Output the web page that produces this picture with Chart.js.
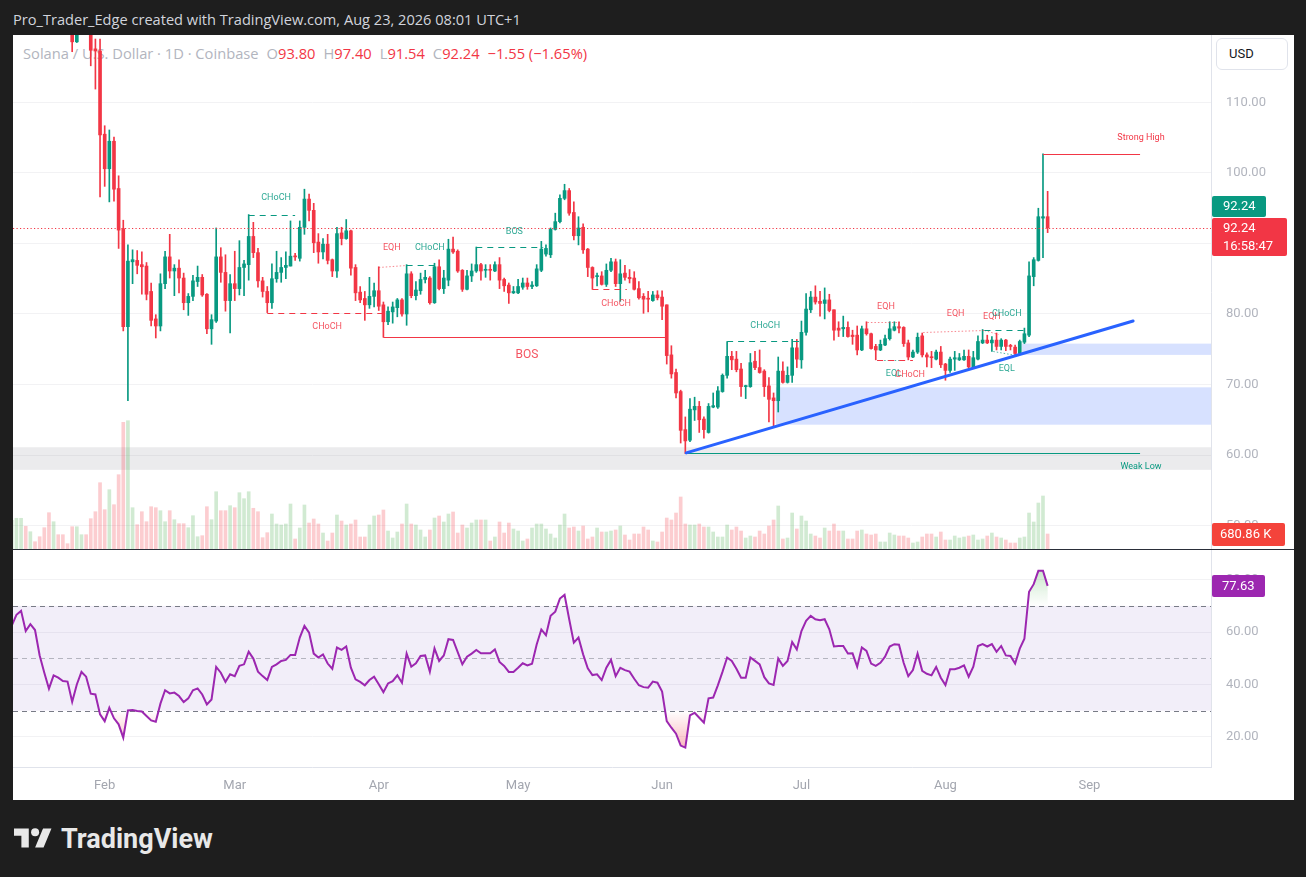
<!DOCTYPE html>
<html><head><meta charset="utf-8">
<title>SOLUSD 1D</title>
<script src="https://cdn.jsdelivr.net/npm/chart.js@4.4.1/dist/chart.umd.min.js"></script>
<style>
html,body{margin:0;padding:0;}
body{width:1306px;height:877px;background:#1e1e1e;position:relative;overflow:hidden;font-family:Roboto,"Noto Sans",sans-serif;}
#title{position:absolute;left:13px;top:9px;color:#d1d4dc;font-family:"Open Sans",sans-serif;font-size:14.6px;line-height:20px;white-space:nowrap;}
#frame{position:absolute;left:13px;top:35px;width:1281px;height:765px;background:#fff;}
#legend{position:absolute;left:23px;top:44px;font-family:"Open Sans",sans-serif;font-size:14.7px;line-height:18px;color:#b2b5be;white-space:nowrap;}
#legend .v{color:#f23645;}
#legend .g{margin-left:8px;}
canvas{position:absolute;}
#c1{left:13px;top:35px;width:1281px;height:514px;}
#c2{left:13px;top:550px;width:1281px;height:250px;}
#sep{position:absolute;left:13px;top:549px;width:1281px;height:1px;background:#2a2e39;}
#usd{position:absolute;left:1216px;top:38px;width:72px;height:32px;border:1px solid #e0e3eb;border-radius:6px;box-sizing:border-box;font-size:13px;color:#131722;line-height:30px;padding-left:12px;background:#fff;}
#brand{position:absolute;left:14px;top:824px;height:30px;display:flex;align-items:center;}
#brand span{color:#e8e8e8;font-weight:700;font-size:27px;margin-left:9px;}
</style></head>
<body>
<div id="title">Pro_Trader_Edge created with TradingView.com, Aug 23, 2026 08:01 UTC+1</div>
<div id="frame"></div>
<div id="legend">Solana / U.S. Dollar · 1D · Coinbase<span class="g">O</span><span class="v">93.80</span><span class="g">H</span><span class="v">97.40</span><span class="g">L</span><span class="v">91.54</span><span class="g">C</span><span class="v">92.24</span><span class="g v">−1.55 (−1.65%)</span></div>
<canvas id="c1" width="1281" height="514"></canvas>
<div id="sep"></div>
<canvas id="c2" width="1281" height="250"></canvas>
<div id="usd">USD</div>
<div id="brand"><svg width="38" height="30" viewBox="0 0 36 28"><path d="M14 22H7V11H0V4h14v18zM28 22h-8l7.5-18h8L28 22z" fill="#e8e8e8"/><circle cx="20" cy="7.5" r="3.8" fill="#e8e8e8"/></svg><span>TradingView</span></div>
<script>
// ---------- DATA (daily candles starting at firstDate) ----------
const firstDate = '2026-01-12';
const open = [
138,140,142,144,137,138.5,136.5,132,128,123,
126,125,124.2,121,118.6,121.5,123,121.2,117.6,117.3,
105.5,100.6,104.5,97.8,92.1,78.2,87.4,87.6,87.0,86.8,
83.2,79.3,78.3,84.3,88.1,86.1,86.5,85.1,81.6,82.5,
84.6,85.2,82.8,77.9,79.0,88.1,85.9,81.9,84.3,83.6,
86.6,87.0,91.0,88.7,84.7,83.2,81.6,85.0,85.9,86.6,
86.8,88.2,87.9,92.3,96.3,94.7,90.2,88.8,89.9,87.7,
86.1,91.5,90.7,91.8,86.6,83.1,82.2,81.3,82.5,83.3,
81.3,78.9,80.3,80.9,82.0,80.0,85.7,82.6,83.3,84.9,
85.1,81.6,86.7,83.6,84.8,89.2,88.9,86.2,83.5,85.4,
86.1,87.0,86.2,86.3,86.1,87.0,84.9,84.1,83.0,83.0,
83.8,84.4,83.9,84.0,86.2,88.5,88.4,92.0,93.1,96.4,
97.5,94.4,91.1,92.3,89.2,86.6,85.3,85.4,84.2,86.2,
87.4,84.3,85.8,85.2,85.1,83.6,82.5,82.2,81.9,82.7,
82.4,81.3,74.2,71.7,69.0,63.6,62.1,66.4,66.9,65.1,
63.2,66.8,66.8,69.0,71.3,74.0,73.6,72.2,69.7,69.7,
73.3,72.4,71.9,69.8,68.1,67.7,71.9,70.3,71.3,75.2,
73.5,77.4,80.6,82.4,81.8,81.5,82.0,80.6,78.0,77.9,
78.1,77.0,77.0,74.9,77.9,77.2,75.4,74.9,75.6,76.5,
77.7,78.2,78.1,75.9,73.9,74.6,76.9,74.2,73.9,73.6,
74.6,72.9,72.0,73.6,73.5,73.5,74.0,72.5,73.6,75.9,
76.3,75.9,76.3,75.4,76.3,75.5,75.3,74.4,76.0,77.0,
85.3,87.6,93.6,93.80];
const high = [
141,143,146,145,140,139,137,133,129,127,
126.5,125.5,124.5,121.5,122,124,123.5,122,119,119,
106.7,106.1,105.1,99.6,93.3,89.8,89.1,89.0,88.8,87.3,
84.4,79.9,85.7,88.9,91.3,87.0,87.7,85.8,82.9,85.5,
86.8,85.6,82.9,79.9,92.2,89.4,88.4,85.6,88.9,90.4,
87.6,94.1,93.0,89.3,85.2,83.9,87.1,88.9,88.0,88.8,
93.2,88.6,93.2,97.7,97.0,95.7,91.4,90.7,91.3,87.8,
92.3,92.3,93.4,91.9,87.0,83.9,83.2,85.2,84.4,86.7,
81.7,81.0,81.7,82.2,82.2,87.0,86.0,84.6,85.8,86.2,
85.3,87.2,87.7,86.2,90.6,90.9,89.1,86.3,86.2,87.1,
89.5,87.2,87.0,87.0,87.4,88.0,85.1,84.4,83.9,84.9,
85.1,85.1,84.6,87.0,90.3,89.8,92.2,94.3,96.9,98.4,
97.8,95.9,93.8,92.8,89.3,86.7,85.8,86.0,87.1,87.9,
87.8,87.7,86.9,86.3,86.0,84.6,82.9,83.2,83.2,83.3,
83.3,81.3,75.5,72.2,69.2,65.4,68.0,68.2,67.6,65.4,
67.3,68.8,69.7,71.5,76.1,74.7,74.7,73.0,69.9,74.4,
74.7,74.9,72.1,71.0,68.8,73.9,73.2,72.5,76.4,76.4,
79.0,82.9,83.2,84.0,83.2,83.7,82.8,80.6,78.9,79.7,
78.9,77.7,78.3,78.3,78.9,77.3,75.7,76.3,77.0,78.9,
78.9,78.9,78.2,76.3,74.9,77.3,77.3,74.5,74.7,74.9,
75.4,73.0,73.9,74.7,74.4,74.9,74.9,74.7,76.9,77.8,
77.0,76.8,77.3,76.5,76.4,75.7,75.6,76.3,78.0,87.4,
88.0,95.0,102.7,97.40];
const low = [
137,138,140,136,136,136,131,127,121,122,
124,123.5,120.5,117.2,118.5,120.5,120.8,115.2,111.9,96.6,
98.1,95.9,96.0,89.3,77.6,67.7,84.3,85.7,82.8,82.0,
78.3,76.6,77.6,83.6,85.1,82.6,83.0,80.6,79.8,81.9,
83.9,82.5,77.2,75.7,78.8,84.5,80.4,77.3,81.9,82.7,
82.6,84.8,88.0,83.8,82.4,80.2,80.8,84.5,84.5,85.0,
86.8,87.6,87.5,91.3,93.2,88.7,87.2,87.8,87.1,85.3,
85.2,89.8,90.6,85.5,81.9,81.6,79.1,80.8,81.0,80.5,
76.7,78.5,78.7,79.6,79.7,78.4,82.3,82.0,82.8,84.4,
81.4,81.5,83.4,82.9,84.0,88.6,85.9,83.2,83.4,84.6,
85.9,84.8,85.2,84.8,86.0,83.6,83.2,81.5,82.9,82.9,
83.5,83.5,83.6,83.9,86.0,88.2,88.0,91.9,92.9,96.2,
94.0,90.5,89.8,88.6,85.3,83.5,84.0,84.1,83.9,86.0,
83.9,81.8,84.8,84.4,83.4,82.1,80.1,80.3,81.8,82.0,
79.2,72.9,70.9,68.1,61.7,60.2,61.9,64.9,63.2,62.4,
63.1,66.7,66.6,68.9,70.9,72.1,71.8,68.3,68.0,69.6,
72.1,71.6,68.3,64.7,64.1,66.1,70.2,70.2,70.3,72.4,
72.3,77.0,80.2,81.4,79.7,79.3,80.3,76.3,76.8,76.8,
76.7,75.7,74.2,74.8,77.0,75.0,73.5,74.8,75.5,76.3,
77.6,77.3,75.4,73.5,73.8,74.4,73.9,72.5,72.4,73.5,
72.4,70.6,71.7,72.0,73.4,73.4,72.3,72.4,73.5,75.8,
75.8,74.7,74.9,74.9,74.8,74.9,74.2,74.3,75.8,76.8,
84.0,87.5,88.0,91.54];
const close = [
140,142,144,137,138.5,136.5,132,128,123,126,
125,124.2,121,118.6,121.5,123,121.2,117.4,117.3,105.4,
100.6,104.5,97.7,91.9,78.2,87.5,87.7,86.9,86.7,82.8,
79.1,78.3,84.3,88.1,86.1,86.5,85.1,81.6,82.5,84.7,
85.2,82.7,77.9,79.2,88.1,85.9,81.9,84.3,83.6,86.6,
87.1,91.0,88.7,84.7,83.2,81.6,85.0,85.9,86.6,86.9,
88.2,88.1,92.3,96.3,94.7,90.1,88.8,89.9,87.6,86.1,
91.4,90.7,91.8,86.5,83.0,82.0,81.3,82.5,83.3,81.1,
78.9,80.4,81.0,82.0,80.0,85.7,82.6,83.4,84.9,85.2,
81.6,86.7,83.6,85.1,89.2,88.8,86.1,83.5,85.4,86.1,
87.0,86.1,86.3,86.2,87.0,84.8,84.0,83.0,83.2,83.9,
84.4,83.9,84.1,86.4,89.2,89.3,92.0,93.1,96.4,97.5,
94.3,91.1,92.2,89.1,86.6,85.1,85.4,84.2,86.2,87.4,
84.3,85.7,85.2,85.0,83.5,82.3,82.1,82.1,82.7,82.3,
81.1,74.1,71.5,68.8,63.5,62.0,66.5,66.9,65.0,63.6,
66.9,67.0,69.1,71.3,74.0,73.5,72.1,69.7,69.8,73.1,
72.4,71.7,69.7,67.9,67.7,71.9,70.3,71.3,75.2,73.6,
77.4,80.7,82.4,81.7,81.5,82.0,80.5,77.7,77.7,78.1,
76.8,76.8,74.9,77.9,77.2,75.1,74.9,75.7,76.5,77.9,
78.2,78.0,75.8,73.9,74.6,76.7,74.2,73.9,73.8,74.6,
72.8,72.0,73.6,73.8,73.8,74.0,72.5,73.8,76.1,76.3,
75.9,76.3,75.4,76.3,75.4,75.4,74.4,76.1,77.2,85.4,
87.7,93.8,93.8,92.24];
// volume in thousands
const volume = [
1300,1394,1394,1031,785,331,558,967,1648,1239,
649,649,241,1012,1012,649,649,1376,1693,3010,
1784,2692,2011,3373,5752,5825,1875,1103,1693,1239,
1920,1875,1739,1239,1739,1330,1149,1149,967,1512,
558,604,1920,1330,2601,1739,1739,1966,1875,2556,
2284,2601,1848,1693,513,740,1589,1135,1090,1135,
2043,454,953,1998,1180,1362,1135,726,363,726,
1544,1271,1090,1135,1317,545,545,1090,1498,1544,
1771,817,499,772,1135,2043,1135,1090,863,545,
863,1407,1498,1226,1589,1680,726,1090,953,1180,
1317,1317,1317,363,545,1226,726,1180,908,817,
363,454,953,1135,1135,908,681,499,1090,1589,
953,999,817,1044,454,545,953,772,772,817,
863,1044,636,409,681,681,999,863,363,318,
772,1407,1317,1634,2361,1135,1090,1090,1135,999,
999,772,545,545,1090,863,999,817,499,590,
545,817,681,1044,1317,1952,454,499,1634,908,
1498,1271,681,590,499,953,817,1135,817,817,
454,454,817,863,681,636,681,318,318,726,
636,590,590,499,272,318,545,681,681,545,
772,409,409,590,499,545,590,636,409,454,
590,726,545,499,409,272,272,499,545,1634,
1226,2088,2406,680.86];
const rsi = [
62.5,66.6,68.1,60.4,63.0,60.8,51.1,44.5,38.4,43.5,
42.6,41.3,41.1,33.4,40.0,44.8,43.0,36.5,36.2,28.6,
26.0,31.1,27.1,24.8,19.7,30.1,30.3,29.9,29.7,28.0,
26.3,25.8,32.7,37.8,36.6,36.9,35.6,33.3,34.7,37.8,
38.5,36.2,32.4,34.3,46.7,44.5,41.0,43.9,43.2,47.1,
47.7,52.5,49.9,44.9,43.2,41.7,46.7,47.7,49.0,49.4,
51.3,51.3,57.9,62.4,59.8,51.8,50.3,51.5,48.0,46.0,
54.1,53.2,54.5,46.4,42.0,41.0,39.7,41.7,43.0,40.1,
37.1,40.4,41.3,43.5,40.7,51.8,46.8,48.1,50.9,51.1,
44.9,53.8,49.0,51.1,57.3,57.0,52.4,47.7,50.6,51.8,
53.2,51.9,51.9,51.9,53.4,48.6,47.1,44.8,44.8,46.4,
48.1,47.3,47.9,55.3,61.0,58.8,66.2,67.8,72.8,74.2,
64.9,56.0,57.9,51.5,46.2,43.6,43.9,41.7,46.4,49.4,
43.2,46.4,45.5,44.9,42.2,39.7,39.0,38.8,41.1,40.7,
37.3,26.0,23.5,21.2,16.7,15.9,28.2,29.2,27.3,25.4,
34.7,35.0,39.7,44.8,50.3,49.0,46.0,42.6,42.6,50.3,
49.0,47.7,42.8,40.4,39.8,49.9,47.1,49.0,56.2,53.4,
60.4,64.3,66.2,64.9,64.5,64.9,61.1,54.5,54.7,54.7,
51.8,51.9,46.8,54.1,52.8,48.0,47.1,48.3,50.6,54.5,
55.4,55.2,48.3,43.2,45.5,51.8,45.2,44.1,43.5,46.7,
42.6,39.8,45.8,45.8,46.4,47.3,43.0,46.8,54.7,55.4,
54.5,55.4,52.5,54.7,51.1,50.9,48.0,53.7,57.5,75.4,
78.3,83.4,83.4,77.63];
const monthLabels = ['Feb','Mar','Apr','May','Jun','Jul','Aug','Sep'];
const priceTicks = [50,60,70,80,90,100,110];
const rsiTicks = [20,40,60,80];
const countdown = '16:58:47';

// structure annotations (day offsets from Feb 1, price levels)
const structures = [
 {label:'CHoCH', from:31, to:41, p1:94.1, p2:94.1, col:'g', style:'dash', lx:36.9, lp:96.45},
 {label:'CHoCH', from:35, to:60, p1:80.2, p2:80.2, col:'r', style:'dash', lx:47.9, lp:78.16},
 {label:'EQH', from:59, to:65, p1:86.6, p2:87.0, col:'r', style:'dot', lx:61.8, lp:89.4},
 {label:'CHoCH', from:65, to:72, p1:87.0, p2:87.0, col:'g', style:'dash', lx:70.0, lp:89.4},
 {label:'BOS', from:80, to:94.4, p1:89.5, p2:89.5, col:'g', style:'dash', lx:88.2, lp:91.6},
 {label:'BOS', from:60, to:121, p1:76.7, p2:76.7, col:'r', style:'solid', lx:90.9, lp:74.2, big:true},
 {label:'CHoCH', from:105, to:112.4, p1:83.5, p2:83.5, col:'r', style:'dash', lx:110.1, lp:81.4},
 {label:'CHoCH', from:134, to:150, p1:76.1, p2:76.1, col:'g', style:'dash', lx:142.2, lp:78.4},
 {label:'EQH', from:164.2, to:171.2, p1:78.9, p2:78.8, col:'r', style:'dot', lx:168.2, lp:81.0},
 {label:'EQL', from:166.3, to:172, p1:73.5, p2:73.5, col:'g', style:'dot', lx:169.9, lp:71.5},
 {label:'CHoCH', from:166.3, to:174, p1:73.5, p2:73.5, col:'r', style:'dash', lx:173.4, lp:71.35},
 {label:'EQH', from:176.2, to:189.4, p1:77.5, p2:77.8, col:'r', style:'dot', lx:183.2, lp:80.0},
 {label:'EQH', from:189.4, to:192.4, p1:77.8, p2:77.2, col:'r', style:'dot', lx:191.0, lp:79.6},
 {label:'CHoCH', from:189.4, to:199.2, p1:77.8, p2:77.8, col:'g', style:'dash', lx:194.2, lp:80.0},
 {label:'EQL', from:191.3, to:196.3, p1:74.8, p2:74.2, col:'g', style:'dot', lx:194.2, lp:72.2}
];
const zones = [
 {from:null, top:61.1, bottom:57.9, color:'rgba(120,123,134,0.15)'},
 {from:144.5, top:69.6, bottom:64.3, color:'rgba(41,98,255,0.19)'},
 {from:197.5, top:75.8, bottom:74.2, color:'rgba(41,98,255,0.19)'}
];
const trendLine = {from:125.2, p1:60.3, to:221.4, p2:79.0};
const swingLevels = [
 {label:'Strong High', from:202, to:222.9, price:102.7, col:'r', lx:223.1, lp:104.96},
 {label:'Weak Low', from:125.2, to:222.9, price:60.3, col:'g', lx:223.1, lp:58.3}
];

// ---------- derived ----------
const GREEN='#089981', RED='#f23645';
const DAY=864e5, FEB1=Date.UTC(2026,1,1);
const [fy,fm,fd]=firstDate.split('-').map(Number);
const d0=(Date.UTC(fy,fm-1,fd)-FEB1)/DAY;
const days=close.map((_,i)=>d0+i);
const monthDays=monthLabels.map((_,i)=>(Date.UTC(2026,1+i,1)-FEB1)/DAY);
const up=close.map((c,i)=>c>=open[i]);
const candleCol=up.map(u=>u?GREEN:RED);
const volCol=up.map(u=>u?'rgba(76,175,80,0.26)':'rgba(242,54,69,0.25)');
const X_MIN=-19.74, X_MAX=238.17;
const FONT='Roboto, "Noto Sans", sans-serif';
const noPadV=s=>{s.width=83; s.paddingTop=0; s.paddingBottom=0;};

function colOf(c){return c==='g'?GREEN:RED;}

const pricePlugin={id:'priceDeco',
 beforeDatasetsDraw(chart){
  const {ctx,chartArea:a,scales:{x,y}}=chart;
  ctx.save();
  zones.forEach(z=>{
   const x1=z.from==null?a.left:x.getPixelForValue(z.from);
   const yt=y.getPixelForValue(z.top), yb=y.getPixelForValue(z.bottom);
   ctx.fillStyle=z.color; ctx.fillRect(x1,yt,a.right-x1,yb-yt);
  });
  ctx.restore();
 },
 afterDatasetsDraw(chart){
  const {ctx,chartArea:a,scales:{x,y}}=chart;
  ctx.save();
  ctx.beginPath(); ctx.rect(a.left,a.top,a.right-a.left,a.bottom-a.top); ctx.clip();
  const yp=Math.round(y.getPixelForValue(close[close.length-1]))+0.5;
  ctx.strokeStyle=RED; ctx.lineWidth=1; ctx.setLineDash([1.2,2.3]);
  ctx.beginPath(); ctx.moveTo(a.left,yp); ctx.lineTo(a.right,yp); ctx.stroke();
  structures.forEach(s=>{
   const c=colOf(s.col);
   ctx.lineWidth=1;
   if(s.style==='dash'){ctx.setLineDash([6,5]); ctx.strokeStyle=c;}
   else if(s.style==='dot'){ctx.setLineDash([1.5,2]); ctx.strokeStyle=s.col==='g'?'rgba(8,153,129,0.7)':'rgba(242,54,69,0.6)';}
   else {ctx.setLineDash([]); ctx.strokeStyle=c;}
   ctx.beginPath();
   ctx.moveTo(x.getPixelForValue(s.from),Math.round(y.getPixelForValue(s.p1))+0.5);
   ctx.lineTo(x.getPixelForValue(s.to),Math.round(y.getPixelForValue(s.p2))+0.5);
   ctx.stroke();
  });
  ctx.setLineDash([]);
  ctx.textAlign='center'; ctx.textBaseline='middle';
  structures.forEach(s=>{
   ctx.fillStyle=s.col==='g'?'rgba(8,153,129,0.85)':'rgba(242,54,69,0.85)';
   ctx.font=(s.big?'12px ':'9px ')+FONT;
   ctx.fillText(s.label,x.getPixelForValue(s.lx),y.getPixelForValue(s.lp));
  });
  swingLevels.forEach(s=>{
   ctx.strokeStyle=colOf(s.col); ctx.lineWidth=1;
   const yy=Math.round(y.getPixelForValue(s.price))+0.5;
   ctx.beginPath(); ctx.moveTo(x.getPixelForValue(s.from),yy); ctx.lineTo(x.getPixelForValue(s.to),yy); ctx.stroke();
   ctx.fillStyle=colOf(s.col); ctx.font='9px '+FONT;
   ctx.fillText(s.label,x.getPixelForValue(s.lx),y.getPixelForValue(s.lp));
  });
  ctx.strokeStyle='#2962ff'; ctx.lineWidth=3; ctx.lineCap='round';
  ctx.beginPath();
  ctx.moveTo(x.getPixelForValue(trendLine.from),y.getPixelForValue(trendLine.p1));
  ctx.lineTo(x.getPixelForValue(trendLine.to),y.getPixelForValue(trendLine.p2));
  ctx.stroke();
  ctx.restore();
 },
 afterDraw(chart){
  const {ctx,scales:{y,yv}}=chart;
  const ax=y.left;
  const last=close[close.length-1];
  const yc=Math.round(y.getPixelForValue(last));
  ctx.save();
  ctx.textBaseline='middle'; ctx.textAlign='left'; ctx.font='13px '+FONT;
  ctx.fillStyle=RED; ctx.beginPath(); ctx.roundRect(ax+1,yc-10,75,38,2); ctx.fill();
  ctx.fillStyle='#fff'; ctx.fillText(last.toFixed(2),ax+12,yc+0.5); ctx.fillText(countdown,ax+12,yc+18.5);
  ctx.fillStyle=GREEN; ctx.beginPath(); ctx.roundRect(ax+1,yc-32,54,21,2); ctx.fill();
  ctx.fillStyle='#fff'; ctx.fillText(last.toFixed(2),ax+12,yc-21);
  const lv=volume[volume.length-1];
  const yvv=Math.round(yv.getPixelForValue(lv));
  ctx.fillStyle='#f4433b'; ctx.beginPath(); ctx.roundRect(ax+1,yvv-11,73,23,2); ctx.fill();
  ctx.fillStyle='#fff'; ctx.fillText(lv.toFixed(2)+' K',ax+9,yvv+0.5);
  ctx.restore();
 }
};

new Chart(document.getElementById('c1'),{
 type:'bar',
 data:{datasets:[
  {type:'bar',data:days.map((d,i)=>({x:d,y:volume[i]})),yAxisID:'yv',backgroundColor:volCol,barThickness:3,grouped:false,order:3},
  {type:'bar',data:days.map((d,i)=>({x:d,y:[low[i],high[i]]})),yAxisID:'y',backgroundColor:candleCol,barThickness:1,grouped:false,order:2},
  {type:'bar',data:days.map((d,i)=>({x:d,y:[open[i],close[i]]})),yAxisID:'y',backgroundColor:candleCol,barThickness:3,minBarLength:1,grouped:false,order:1}
 ]},
 options:{responsive:false,animation:false,events:[],layout:{padding:0},
  plugins:{legend:{display:false},tooltip:{enabled:false}},
  scales:{
   x:{type:'linear',min:X_MIN,max:X_MAX,offset:false,display:false},
   y:{position:'right',min:46.67,max:119.57,
      afterBuildTicks:s=>{s.ticks=priceTicks.map(v=>({value:v}));},
      afterFit:noPadV,
      ticks:{callback:v=>Number(v).toFixed(2),color:'#b2b5be',font:{family:FONT,size:13},padding:15},
      grid:{color:'#f2f2f4',drawTicks:false},border:{color:'#e0e3eb'}},
   yv:{display:false,min:0,max:23336}
  }},
 plugins:[pricePlugin]
});

const rsiPlugin={id:'rsiDeco',
 beforeDatasetsDraw(chart){
  const {ctx,chartArea:a,scales:{x,y}}=chart;
  const y70=y.getPixelForValue(70), y30=y.getPixelForValue(30), y50=y.getPixelForValue(50);
  ctx.save();
  ctx.fillStyle='rgba(126,87,194,0.1)'; ctx.fillRect(a.left,y70,a.right-a.left,y30-y70);
  const pts=days.map((d,i)=>[x.getPixelForValue(d),y.getPixelForValue(rsi[i])]);
  const region=(lvl,ct,cb,g)=>{
   ctx.save(); ctx.beginPath(); ctx.rect(a.left,ct,a.right-a.left,cb-ct); ctx.clip();
   ctx.beginPath(); ctx.moveTo(pts[0][0],lvl); pts.forEach(p=>ctx.lineTo(p[0],p[1]));
   ctx.lineTo(pts[pts.length-1][0],lvl); ctx.closePath(); ctx.fillStyle=g; ctx.fill(); ctx.restore();
  };
  const gU=ctx.createLinearGradient(0,y.getPixelForValue(100),0,y70);
  gU.addColorStop(0,'rgba(76,175,80,0.65)'); gU.addColorStop(1,'rgba(76,175,80,0)');
  region(y70,a.top,y70,gU);
  const gD=ctx.createLinearGradient(0,y30,0,y.getPixelForValue(0));
  gD.addColorStop(0,'rgba(242,54,69,0)'); gD.addColorStop(1,'rgba(242,54,69,0.75)');
  region(y30,y30,a.bottom,gD);
  ctx.lineWidth=1; ctx.setLineDash([5,4]);
  ctx.strokeStyle='#787b86';
  [y70,y30].forEach(v=>{ctx.beginPath();ctx.moveTo(a.left,Math.round(v)+0.5);ctx.lineTo(a.right,Math.round(v)+0.5);ctx.stroke();});
  ctx.strokeStyle='rgba(120,123,134,0.5)';
  ctx.beginPath();ctx.moveTo(a.left,Math.round(y50)+0.5);ctx.lineTo(a.right,Math.round(y50)+0.5);ctx.stroke();
  ctx.restore();
 },
 afterDraw(chart){
  const {ctx,scales:{y}}=chart;
  const v=rsi[rsi.length-1]; const yc=Math.round(y.getPixelForValue(v));
  ctx.save();
  ctx.fillStyle='#9c27b0'; ctx.beginPath(); ctx.roundRect(y.left+1,yc-11,53,22,2); ctx.fill();
  ctx.fillStyle='#fff'; ctx.font='13px '+FONT; ctx.textBaseline='middle'; ctx.textAlign='left';
  ctx.fillText(v.toFixed(2),y.left+11,yc+0.5);
  ctx.restore();
 }
};

new Chart(document.getElementById('c2'),{
 type:'line',
 data:{datasets:[{data:days.map((d,i)=>({x:d,y:rsi[i]})),borderColor:'#9c27b0',borderWidth:2,pointRadius:0,tension:0,fill:false}]},
 options:{responsive:false,animation:false,events:[],layout:{padding:0},
  plugins:{legend:{display:false},tooltip:{enabled:false}},
  scales:{
   x:{type:'linear',min:X_MIN,max:X_MAX,offset:false,
      afterFit:s=>{s.height=33; s.paddingLeft=0; s.paddingRight=0;},
      afterBuildTicks:s=>{s.ticks=monthDays.map(v=>({value:v}));},
      ticks:{callback:v=>monthLabels[monthDays.indexOf(v)],color:'#a3a6af',font:{family:FONT,size:13},padding:11,maxRotation:0,autoSkip:false},
      grid:{display:false,drawTicks:false},border:{display:true,color:'#e0e3eb'}},
   y:{position:'right',min:8.51,max:91.34,
      afterBuildTicks:s=>{s.ticks=rsiTicks.map(v=>({value:v}));},
      afterFit:noPadV,
      ticks:{callback:v=>Number(v).toFixed(2),color:'#b2b5be',font:{family:FONT,size:13},padding:15},
      grid:{color:'#f2f2f4',drawTicks:false},border:{color:'#e0e3eb'}}
  }},
 plugins:[rsiPlugin]
});
</script>
</body></html>
